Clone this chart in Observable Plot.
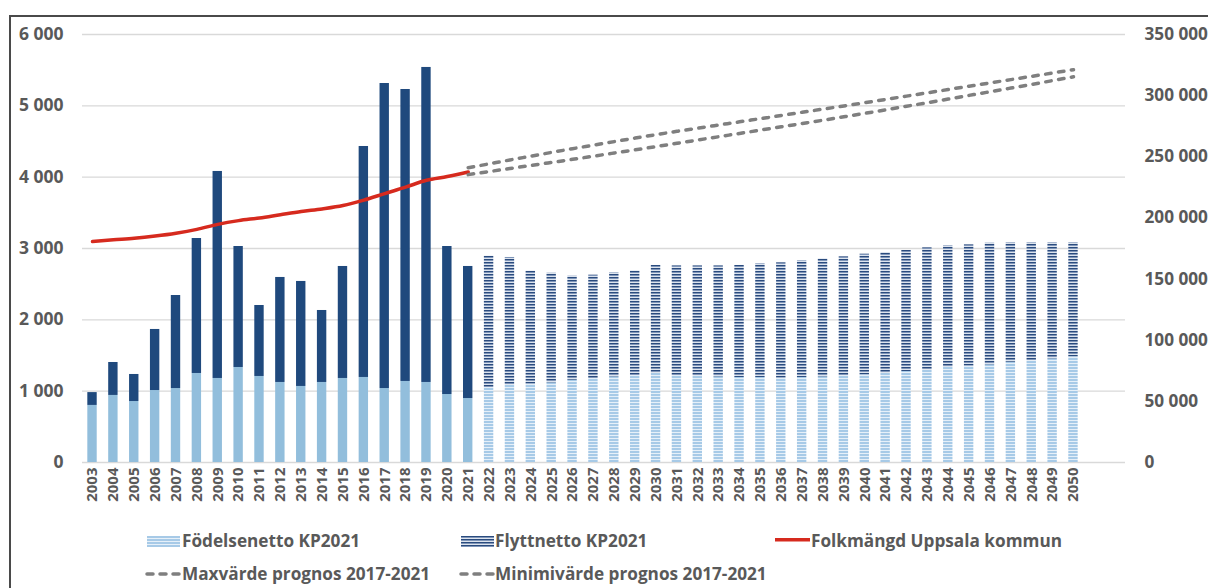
<!DOCTYPE html>
<html><head><meta charset="utf-8">
<script src="https://cdn.jsdelivr.net/npm/d3@7"></script>
<script src="https://cdn.jsdelivr.net/npm/@observablehq/plot@0.6"></script>
<style>
body{margin:0;background:#fff;}
#wrap{position:relative;width:1208px;height:588px;overflow:hidden;font-family:"Open Sans",sans-serif;font-weight:700;color:#595959;background:#fff;}
.bt{position:absolute;left:9px;top:15px;width:1199px;height:1.5px;background:#4a4a4a;}
.bl{position:absolute;left:9px;top:15px;width:1.5px;height:573px;background:#4a4a4a;}
#chart{position:absolute;left:10px;top:16px;}
.lt{position:absolute;font-size:17.2px;line-height:20px;white-space:nowrap;}
.ls{position:absolute;}
</style></head><body>
<div id="wrap">
<svg width="0" height="0" style="position:absolute;left:0;top:0">
 <defs>
  <pattern id="pLight" width="6" height="3" patternUnits="userSpaceOnUse">
   <rect width="6" height="3" fill="#e6f0f9"/>
   <rect width="6" height="2" fill="#a7cae7"/>
  </pattern>
  <pattern id="pDark" width="6" height="3" patternUnits="userSpaceOnUse">
   <rect width="6" height="3" fill="#dde4ee"/>
   <rect width="6" height="1" fill="#2a4b7e"/>
   <rect y="1" width="6" height="1" fill="#7f95b8"/>
  </pattern>
 </defs>
</svg>
<div class="bt"></div><div class="bl"></div>
<div id="chart"></div>
<svg class="ls" style="left:147px;top:536px" width="33" height="11"><rect width="33" height="11" fill="url(#pLight)"/></svg>
<div class="lt" style="left:182px;top:531px">Födelsenetto KP2021</div>
<svg class="ls" style="left:461px;top:536px" width="33" height="11"><rect width="33" height="11" fill="url(#pDark)"/></svg>
<div class="lt" style="left:495px;top:531px">Flyttnetto KP2021</div>
<svg class="ls" style="left:775px;top:538px" width="36" height="4"><rect width="35" height="3.5" fill="#d62a1e"/></svg>
<div class="lt" style="left:811px;top:531px">Folkmängd Uppsala kommun</div>
<svg class="ls" style="left:144px;top:570px" width="38" height="8"><line x1="3" y1="4" x2="36" y2="4" stroke="#7f7f7f" stroke-width="3.5" stroke-dasharray="6,7" stroke-linecap="round"/></svg>
<div class="lt" style="left:182px;top:564px">Maxvärde prognos 2017-2021</div>
<svg class="ls" style="left:458px;top:570px" width="38" height="8"><line x1="3" y1="4" x2="36" y2="4" stroke="#7f7f7f" stroke-width="3.5" stroke-dasharray="6,7" stroke-linecap="round"/></svg>
<div class="lt" style="left:495px;top:564px">Minimivärde prognos 2017-2021</div>
</div>
<script>
// Categories
const years = [2003,2004,2005,2006,2007,2008,2009,2010,2011,2012,2013,2014,2015,2016,2017,2018,2019,2020,2021,
  2022,2023,2024,2025,2026,2027,2028,2029,2030,2031,2032,2033,2034,2035,2036,2037,2038,2039,2040,2041,2042,2043,2044,2045,2046,2047,2048,2049,2050];
const lastActualYear = 2021;
// Födelsenetto (births net)
const births = [800,940,855,1009,1037,1248,1178,1332,1206,1122,1066,1122,1178,1192,1037,1136,1122,953,897,
  1050,1083,1098,1116,1154,1177,1200,1220,1248,1220,1210,1200,1192,1192,1182,1192,1200,1214,1228,1248,1276,1294,1332,1350,1369,1406,1425,1453,1481];
// Flyttnetto (net migration)
const migration = [180,462,379,856,1304,1892,2902,1696,995,1472,1472,1009,1570,3238,4276,4093,4416,2075,1851,
  1842,1791,1584,1538,1458,1449,1458,1466,1514,1536,1546,1556,1570,1593,1617,1635,1655,1669,1692,1696,1696,1715,1705,1701,1706,1673,1654,1626,1598];
// Folkmängd Uppsala kommun 2003-2021
const popYears = [2003,2004,2005,2006,2007,2008,2009,2010,2011,2012,2013,2014,2015,2016,2017,2018,2019,2020,2021];
const population = [180669,182076,183358,185198,187541,190668,194751,197787,200001,202625,205199,207362,210126,214559,219914,225164,230767,233839,237596];
// Prognos 2017-2021 max / min, 2021-2050
const progYears = [2021,2022,2023,2024,2025,2026,2027,2028,2029,2030,2031,2032,2033,2034,2035,2036,2037,2038,2039,2040,2041,2042,2043,2044,2045,2046,2047,2048,2049,2050];
const progMax = [241000,244200,247400,250500,253600,256600,259500,262400,265300,268100,270800,273400,276000,278600,281200,283800,286400,289000,291600,294200,296900,299600,302300,305000,307700,310400,313100,315800,318500,321200];
const progMin = [235400,237900,240400,242900,245400,247900,250500,253100,255700,258300,261000,263700,266400,269100,271800,274500,277200,279900,282700,285500,288400,291300,294200,297200,300200,303200,306200,309200,312300,315400];
// Axis ticks
const leftTicks = [0,1000,2000,3000,4000,5000,6000];
const rightTicks = [0,50000,100000,150000,200000,250000,300000,350000];

const leftMax = 6000, rightMax = 350000;
const k = leftMax / rightMax;
const fmt = d3.formatLocale({decimal:",", thousands:"\u00a0", grouping:[3], currency:["",""]}).format(",");

const bars = years.map((y,i) => ({year: y, births: births[i], migration: migration[i], total: births[i] + migration[i], forecast: y > lastActualYear}));
const hist = bars.filter(d => !d.forecast);
const fc = bars.filter(d => d.forecast);
const pop = popYears.map((y,i) => ({year: y, v: population[i]}));
const pMax = progYears.map((y,i) => ({year: y, v: progMax[i]}));
const pMin = progYears.map((y,i) => ({year: y, v: progMin[i]}));

const W = 1198, H = 510;
const chart = Plot.plot({
  width: W, height: H,
  marginLeft: 72, marginRight: 83, marginTop: 18, marginBottom: 64,
  style: {fontFamily: '"Open Sans", sans-serif', fontWeight: 700, color: "#595959", background: "transparent", overflow: "visible"},
  x: {type: "band", domain: years, range: [72.1, 1072.9], paddingInner: 0.55, paddingOuter: 0.25},
  y: {domain: [0, leftMax]},
  marks: [
    Plot.gridY(leftTicks, {stroke: "#d9d9d9", strokeOpacity: 1, strokeWidth: 1.3}),
    Plot.barY(hist, {x: "year", y1: 0, y2: "births", fill: "#92bedc"}),
    Plot.barY(hist, {x: "year", y1: "births", y2: "total", fill: "#1f497d"}),
    Plot.barY(fc, {x: "year", y1: 0, y2: "births", fill: "url(#pLight)"}),
    Plot.barY(fc, {x: "year", y1: "births", y2: "total", fill: "url(#pDark)"}),
    Plot.line(pop, {x: "year", y: d => d.v * k, stroke: "#d62a1e", strokeWidth: 3.5, curve: "monotone-x"}),
    Plot.line(pMax, {x: "year", y: d => d.v * k, stroke: "#7f7f7f", strokeWidth: 3.5, strokeDasharray: "5.5,7.5", strokeLinecap: "round", curve: "monotone-x"}),
    Plot.line(pMin, {x: "year", y: d => d.v * k, stroke: "#7f7f7f", strokeWidth: 3.5, strokeDasharray: "5.5,7.5", strokeLinecap: "round", curve: "monotone-x"}),
    Plot.axisY(leftTicks, {anchor: "left", tickSize: 0, tickPadding: 19, tickFormat: d => fmt(d), fontSize: 17.5, label: null}),
    Plot.axisY(rightTicks.map(v => v * k), {anchor: "right", tickSize: 0, tickPadding: 19, tickFormat: d => fmt(Math.round(d / k)), fontSize: 17.2, label: null}),
    Plot.axisX({tickRotate: -90, tickSize: 0, tickPadding: 5, fontSize: 15, label: null, tickFormat: d => String(d)})
  ]
});
document.getElementById("chart").appendChild(chart);
</script>
</body></html>
